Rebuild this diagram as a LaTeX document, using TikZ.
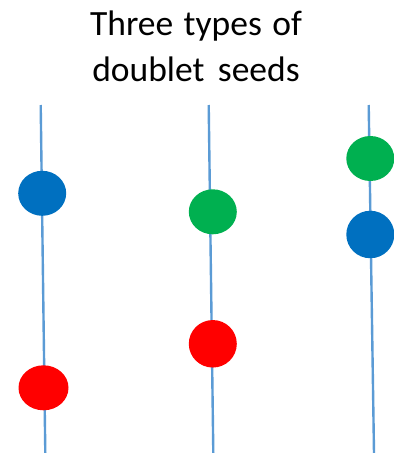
\documentclass[tikz,border=0pt]{standalone}
\usepackage{fontspec}
\setmainfont{Carlito}[WordSpace={1.3}]
\usetikzlibrary{shapes.geometric}
\definecolor{linecol}{HTML}{5B9BD5}
\definecolor{sblue}{HTML}{0070C0}
\definecolor{sgreen}{HTML}{00B050}
\definecolor{sred}{HTML}{FF0000}
\tikzset{
  track/.style={draw=linecol, line width=2.4pt},
  seed/.style={ellipse, minimum width=48pt, minimum height=45pt, inner sep=0pt, draw=none},
}
\begin{document}
\begin{tikzpicture}[x=1pt,y=-1pt]
\useasboundingbox (0,0) rectangle (394,453);
\node[align=center, font=\fontsize{35.5}{46.7}\selectfont, anchor=base] (title) at (196,81.7) {Three types of\\doublet \hspace{3pt}seeds};
% tracks
\coordinate (t1) at (40.7,105); \coordinate (b1) at (45.3,453);
\coordinate (t2) at (208.7,105); \coordinate (b2) at (213.3,453);
\coordinate (t3) at (368.7,105); \coordinate (b3) at (374,453);
\draw[track] (t1) -- (b1);
\draw[track] (t2) -- (b2);
\draw[track] (t3) -- (b3);
% seeds
\node[seed, fill=sblue] (s1a) at (42.2,193.3) {};
\node[seed, fill=sred, minimum width=50pt] (s1b) at (43.5,387.8) {};
\node[seed, fill=sgreen] (s2a) at (212.8,211.8) {};
\node[seed, fill=sred, minimum height=47.5pt] (s2b) at (212.8,343.8) {};
\node[seed, fill=sgreen] (s3a) at (370.3,158.5) {};
\node[seed, fill=sblue, minimum height=47.5pt] (s3b) at (370.3,234.5) {};
\end{tikzpicture}
\end{document}
